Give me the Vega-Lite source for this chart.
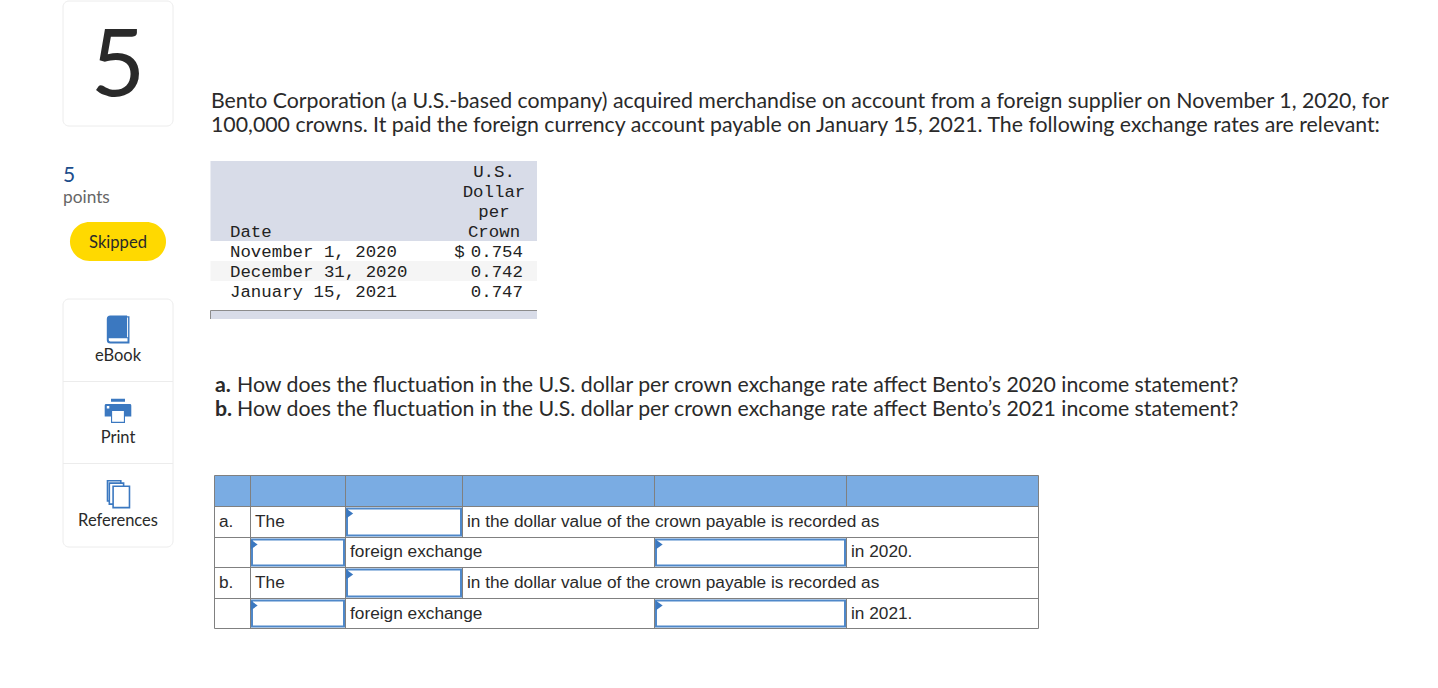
{
  "$schema": "https://vega.github.io/schema/vega-lite/v6.json",
  "description": "Homework question page with exchange rate table and answer grid",
  "width": 1438,
  "height": 688,
  "autosize": {"type": "fit", "contains": "padding"},
  "padding": 0,
  "background": "#ffffff",
  "config": {"view": {"stroke": null}},
  "datasets": {
    "cards": [{"gx": 0, "gx2": 4, "gy": 0, "gy2": 3}, {"gx": 0, "gx2": 4, "gy": 20, "gy2": 41}],
    "pill": [{"gx": 1, "gx2": 3, "gy": 11, "gy2": 16}],
    "dividers": [{"gx": 0, "gx2": 4, "gy": 25}, {"gx": 0, "gx2": 4, "gy": 30}],
    "rateShade": [{"gx": 5, "gx2": 26, "gy": 5, "gy2": 13}, {"gx": 5, "gx2": 26, "gy": 21, "gy2": 22}],
    "rateBand": [{"gx": 5, "gx2": 26, "gy": 16, "gy2": 18}],
    "answerHead": [{"gx": 7, "gx2": 33, "gy": 31, "gy2": 33}],
    "gridH": [
      {"gx": 7, "gx2": 33, "gy": 31}, {"gx": 7, "gx2": 33, "gy": 33}, {"gx": 7, "gx2": 33, "gy": 38},
      {"gx": 7, "gx2": 33, "gy": 44}, {"gx": 7, "gx2": 33, "gy": 49}, {"gx": 7, "gx2": 33, "gy": 54}
    ],
    "gridV": [
      {"gx": 7, "gy": 31, "gy2": 54}, {"gx": 33, "gy": 31, "gy2": 54},
      {"gx": 12, "gy": 31, "gy2": 54}, {"gx": 17, "gy": 31, "gy2": 54},
      {"gx": 22, "gy": 31, "gy2": 38}, {"gx": 22, "gy": 44, "gy2": 49},
      {"gx": 27, "gy": 31, "gy2": 33}, {"gx": 27, "gy": 38, "gy2": 44}, {"gx": 27, "gy": 49, "gy2": 54},
      {"gx": 31, "gy": 31, "gy2": 33}, {"gx": 31, "gy": 38, "gy2": 44}, {"gx": 31, "gy": 49, "gy2": 54}
    ],
    "inputs": [
      {"gx": 18, "gx2": 21, "gy": 34, "gy2": 37},
      {"gx": 13, "gx2": 16, "gy": 39, "gy2": 43},
      {"gx": 28, "gx2": 30, "gy": 39, "gy2": 43},
      {"gx": 18, "gx2": 21, "gy": 45, "gy2": 48},
      {"gx": 13, "gx2": 16, "gy": 50, "gy2": 53},
      {"gx": 28, "gx2": 30, "gy": 50, "gy2": 53}
    ],
    "flags": [
      {"gx": 19, "gy": 35}, {"gx": 14, "gy": 40}, {"gx": 29, "gy": 40},
      {"gx": 19, "gy": 46}, {"gx": 14, "gy": 51}, {"gx": 29, "gy": 51}
    ],
    "question": [
      {"gx": 6, "gy": 2, "label": "Bento Corporation (a U.S.-based company) acquired merchandise on account from a foreign supplier on November 1, 2020, for"},
      {"gx": 6, "gy": 4, "label": "100,000 crowns. It paid the foreign currency account payable on January 15, 2021. The following exchange rates are relevant:"},
      {"gx": 11, "gy": 26, "label": "How does the fluctuation in the U.S. dollar per crown exchange rate affect Bento’s 2020 income statement?"},
      {"gx": 11, "gy": 28, "label": "How does the fluctuation in the U.S. dollar per crown exchange rate affect Bento’s 2021 income statement?"}
    ],
    "parts": [{"gx": 8, "gy": 26, "label": "a."}, {"gx": 8, "gy": 28, "label": "b."}],
    "sideLabels": [
      {"gx": 2, "gy": 24, "label": "eBook"}, {"gx": 2, "gy": 29, "label": "Print"}, {"gx": 2, "gy": 35.93, "label": "References"}
    ],
    "rateHead": [
      {"gx": 24, "gy": 6, "label": "U.S."}, {"gx": 24, "gy": 8, "label": "Dollar"},
      {"gx": 24, "gy": 10, "label": "per"}, {"gx": 24, "gy": 12, "label": "Crown"}
    ],
    "rateDates": [
      {"gx": 10, "gy": 12, "label": "Date"},
      {"gx": 10, "gy": 15, "label": "November 1, 2020"},
      {"gx": 10, "gy": 17, "label": "December 31, 2020"},
      {"gx": 10, "gy": 19, "label": "January 15, 2021"},
      {"gx": 20.94, "gy": 15, "label": "$"}
    ],
    "rateValues": [
      {"gx": 25, "gy": 15, "label": "0.754"},
      {"gx": 25, "gy": 17, "label": "0.742"},
      {"gx": 25, "gy": 19, "label": "0.747"}
    ],
    "answerText": [
      {"gx": 9, "gy": 36, "label": "a."},
      {"gx": 15, "gy": 36, "label": "The"},
      {"gx": 23, "gy": 36, "label": "in the dollar value of the crown payable is recorded as"},
      {"gx": 20, "gy": 42, "label": "foreign exchange"},
      {"gx": 32, "gy": 42, "label": "in 2020."},
      {"gx": 9, "gy": 47, "label": "b."},
      {"gx": 15, "gy": 47, "label": "The"},
      {"gx": 23, "gy": 47, "label": "in the dollar value of the crown payable is recorded as"},
      {"gx": 20, "gy": 52, "label": "foreign exchange"},
      {"gx": 32, "gy": 52, "label": "in 2021."}
    ]
  },
  "encoding": {
    "x": {
      "field": "gx",
      "type": "quantitative",
      "axis": null,
      "scale": {
        "domain": [0,1,2,3,4,5,6,7,8,9,10,11,12,13,14,15,16,17,18,19,20,21,22,23,24,25,26,27,28,29,30,31,32,33],
        "range": [63,70,118,166,173,210.5,211,214.5,215,219,230,237,250.5,252,254,255,344,345.5,347,349.5,350,461,462.5,467,494,523,537,654.5,656,659,845,846.5,851,1038.5]
      }
    },
    "y": {
      "field": "gy",
      "type": "quantitative",
      "axis": null,
      "scale": {
        "domain": [0,1,2,3,4,5,6,7,8,9,10,11,12,13,14,15,16,17,18,19,20,21,22,23,24,25,26,27,28,29,30,31,32,33,34,35,36,37,38,39,40,41,42,43,44,45,46,47,48,49,50,51,52,53,54],
        "range": [1,96,108,126,132,161,177,182,197,203,217,222,237,241,248,257,261,277,281,297,299,310.5,319,329.5,361,381.5,392,411,416,443,463.5,475.5,494,506.5,508.5,513.5,527,535.5,537.5,539.5,544.5,547,557,565.5,567.5,569.5,574.5,588,596.5,598.5,600.5,605.5,619,626.5,628.5]
      }
    }
  },
  "layer": [
    {
      "data": {"name": "cards"},
      "mark": {"type": "rect", "fill": "#ffffff", "stroke": "#ececec", "strokeWidth": 1, "cornerRadius": 6},
      "encoding": {"x2": {"field": "gx2"}, "y2": {"field": "gy2"}}
    },
    {
      "data": {"name": "dividers"},
      "mark": {"type": "rule", "color": "#ececec", "strokeWidth": 1},
      "encoding": {"x2": {"field": "gx2"}}
    },
    {
      "data": {"name": "pill"},
      "mark": {"type": "rect", "fill": "#ffd900", "cornerRadius": 19.5},
      "encoding": {"x2": {"field": "gx2"}, "y2": {"field": "gy2"}}
    },
    {
      "data": {"name": "rateShade"},
      "mark": {"type": "rect", "fill": "#d8dce8"},
      "encoding": {"x2": {"field": "gx2"}, "y2": {"field": "gy2"}}
    },
    {
      "data": {"name": "rateBand"},
      "mark": {"type": "rect", "fill": "#f5f5f5"},
      "encoding": {"x2": {"field": "gx2"}, "y2": {"field": "gy2"}}
    },
    {
      "data": {"values": [{"gx": 5, "gx2": 26, "gy": 21}]},
      "mark": {"type": "rule", "color": "#8c8c8c", "strokeWidth": 1},
      "encoding": {"x2": {"field": "gx2"}}
    },
    {
      "data": {"values": [{"gx": 5, "gy": 21, "gy2": 22}]},
      "mark": {"type": "rule", "color": "#8c8c8c", "strokeWidth": 1},
      "encoding": {"y2": {"field": "gy2"}}
    },
    {
      "data": {"name": "answerHead"},
      "mark": {"type": "rect", "fill": "#7aace3"},
      "encoding": {"x2": {"field": "gx2"}, "y2": {"field": "gy2"}}
    },
    {
      "data": {"name": "gridH"},
      "mark": {"type": "rule", "color": "#808080", "strokeWidth": 1},
      "encoding": {"x2": {"field": "gx2"}}
    },
    {
      "data": {"name": "gridV"},
      "mark": {"type": "rule", "color": "#808080", "strokeWidth": 1},
      "encoding": {"y2": {"field": "gy2"}}
    },
    {
      "data": {"name": "inputs"},
      "mark": {"type": "rect", "fill": "#ffffff", "stroke": "#4f88c9", "strokeWidth": 2},
      "encoding": {"x2": {"field": "gx2"}, "y2": {"field": "gy2"}}
    },
    {
      "data": {"name": "flags"},
      "mark": {"type": "point", "filled": true, "fill": "#3b78c0", "opacity": 1, "strokeWidth": 0, "size": 178, "shape": "M-0.5,-0.75 L0.55,0 L-0.5,0.75 Z"}
    },
    {
      "data": {"values": [{"gx": 2, "gy": 23}]},
      "mark": {"type": "point", "filled": true, "fill": "#3b78c0", "opacity": 1, "strokeWidth": 0, "size": 784, "shape": "M-0.8,-0.75 Q-0.8,-1 -0.55,-1 H0.65 V-0.95 H0.82 V1 H-0.55 Q-0.8,1 -0.8,0.75 Z"}
    },
    {
      "data": {"values": [{"gx": 2, "gy": 23}]},
      "mark": {"type": "point", "filled": true, "fill": "#ffffff", "opacity": 1, "strokeWidth": 0, "size": 784, "shape": "M-0.66,0.62 H0.68 V0.86 H-0.55 Q-0.66,0.86 -0.66,0.74 Z M0.65,-0.85 H0.72 V0.55 H0.65 Z"}
    },
    {
      "data": {"values": [{"gx": 2, "gy": 27}]},
      "mark": {"type": "point", "filled": true, "fill": "#3b78c0", "opacity": 1, "strokeWidth": 0, "size": 784, "shape": "M-0.5,-0.88 H0.5 V-0.66 H-0.5 Z M-0.85,-0.5 H0.85 Q0.95,-0.5 0.95,-0.4 V0.4 H0.5 V0.85 H-0.5 V0.4 H-0.95 V-0.4 Q-0.95,-0.5 -0.85,-0.5 Z"}
    },
    {
      "data": {"values": [{"gx": 2, "gy": 27}]},
      "mark": {"type": "point", "filled": true, "fill": "#ffffff", "opacity": 1, "strokeWidth": 0, "size": 784, "shape": "M-0.42,0 H0.42 V0.77 H-0.42 Z M-0.8,-0.35 H-0.62 V-0.17 H-0.8 Z"}
    },
    {
      "data": {"values": [{"gx": 2, "gy": 32}]},
      "mark": {"type": "point", "filled": true, "fill": "#ffffff", "stroke": "#3b78c0", "opacity": 1, "strokeWidth": 1.6, "size": 784, "shape": "M-0.75,-0.95 H0.2 V0.5 H-0.75 Z"}
    },
    {
      "data": {"values": [{"gx": 2, "gy": 32}]},
      "mark": {"type": "point", "filled": true, "fill": "#ffffff", "stroke": "#3b78c0", "opacity": 1, "strokeWidth": 1.6, "size": 784, "shape": "M-0.62,-0.78 H0.4 V0.72 H-0.62 Z"}
    },
    {
      "data": {"values": [{"gx": 2, "gy": 32}]},
      "mark": {"type": "point", "filled": true, "fill": "#ffffff", "stroke": "#3b78c0", "opacity": 1, "strokeWidth": 1.6, "size": 784, "shape": "M-0.35,-0.55 H0.82 V0.97 H-0.35 Z"}
    },
    {
      "data": {"values": [{"gx": 2, "gy": 1, "label": "5"}]},
      "mark": {"type": "text", "font": "Lato", "fontSize": 94, "color": "#2a2a2a", "align": "center", "baseline": "alphabetic"},
      "encoding": {"text": {"field": "label"}}
    },
    {
      "data": {"values": [{"gx": 0, "gy": 7, "label": "5"}]},
      "mark": {"type": "text", "font": "Lato", "fontSize": 21, "color": "#1c4d8c", "align": "left", "baseline": "alphabetic"},
      "encoding": {"text": {"field": "label"}}
    },
    {
      "data": {"values": [{"gx": 0, "gy": 9, "label": "points"}]},
      "mark": {"type": "text", "font": "Lato", "fontSize": 17.3, "color": "#666666", "align": "left", "baseline": "alphabetic"},
      "encoding": {"text": {"field": "label"}}
    },
    {
      "data": {"values": [{"gx": 2, "gy": 14, "label": "Skipped"}]},
      "mark": {"type": "text", "font": "Lato", "fontSize": 16.6, "color": "#2a2a2a", "align": "center", "baseline": "alphabetic"},
      "encoding": {"text": {"field": "label"}}
    },
    {
      "data": {"name": "sideLabels"},
      "mark": {"type": "text", "font": "Lato", "fontSize": 16.5, "color": "#2a2a2a", "align": "center", "baseline": "alphabetic"},
      "encoding": {"text": {"field": "label"}}
    },
    {
      "data": {"name": "question"},
      "mark": {"type": "text", "font": "Lato", "fontSize": 21.3, "color": "#2a2a2a", "align": "left", "baseline": "alphabetic"},
      "encoding": {"text": {"field": "label"}}
    },
    {
      "data": {"name": "parts"},
      "mark": {"type": "text", "font": "Lato", "fontSize": 21.3, "fontWeight": "bold", "color": "#2a2a2a", "align": "left", "baseline": "alphabetic"},
      "encoding": {"text": {"field": "label"}}
    },
    {
      "data": {"name": "rateHead"},
      "mark": {"type": "text", "font": "Liberation Mono", "fontSize": 17.4, "color": "#222222", "align": "center", "baseline": "alphabetic"},
      "encoding": {"text": {"field": "label"}}
    },
    {
      "data": {"name": "rateDates"},
      "mark": {"type": "text", "font": "Liberation Mono", "fontSize": 17.4, "color": "#222222", "align": "left", "baseline": "alphabetic"},
      "encoding": {"text": {"field": "label"}}
    },
    {
      "data": {"name": "rateValues"},
      "mark": {"type": "text", "font": "Liberation Mono", "fontSize": 17.4, "color": "#222222", "align": "right", "baseline": "alphabetic"},
      "encoding": {"text": {"field": "label"}}
    },
    {
      "data": {"name": "answerText"},
      "mark": {"type": "text", "font": "Liberation Sans", "fontSize": 17.25, "color": "#2a2a2a", "align": "left", "baseline": "alphabetic"},
      "encoding": {"text": {"field": "label"}}
    }
  ]
}
